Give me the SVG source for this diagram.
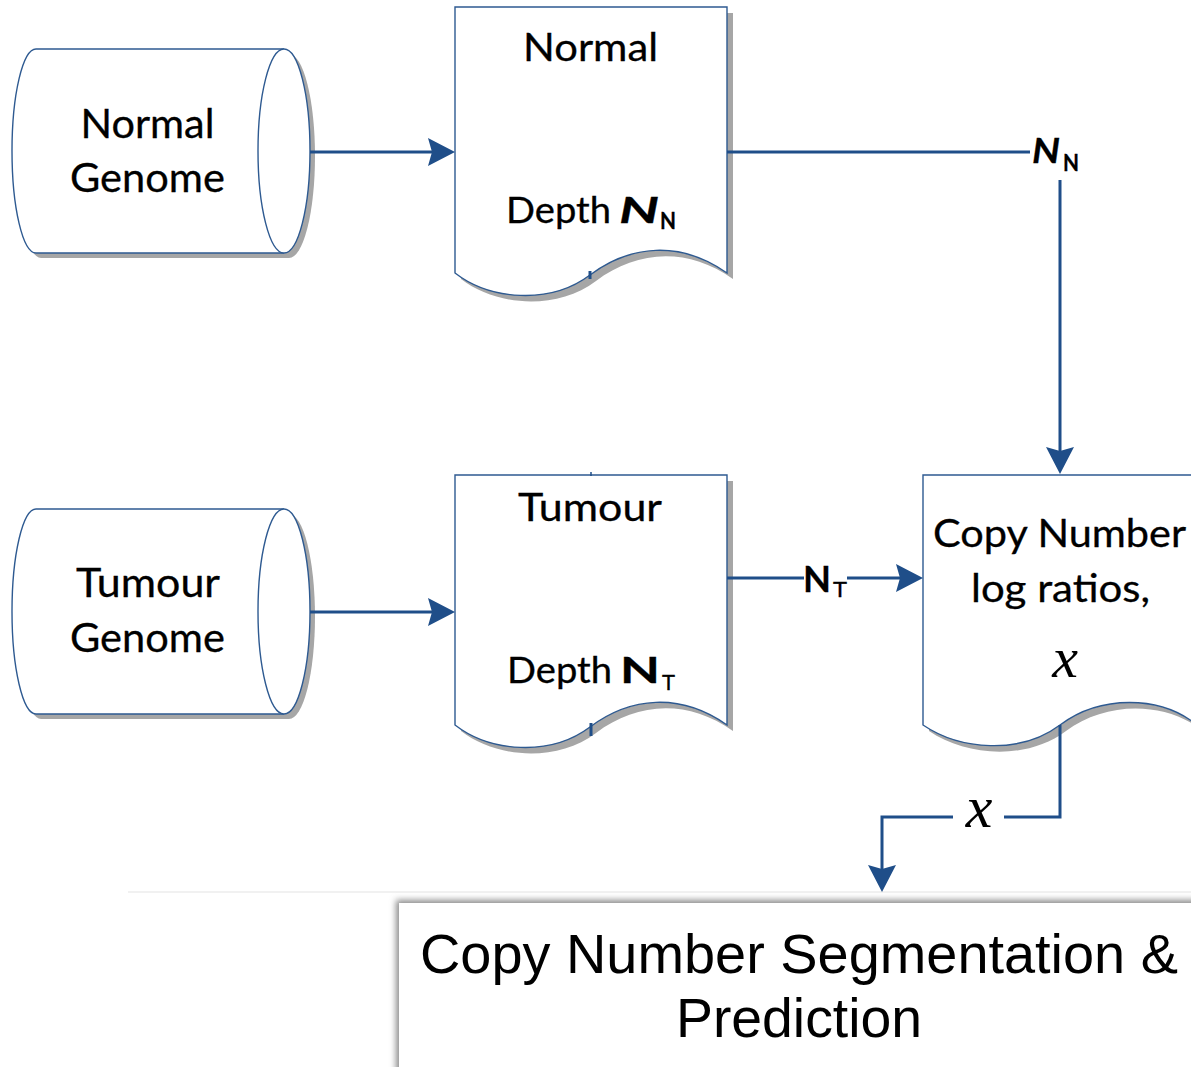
<svg xmlns="http://www.w3.org/2000/svg" width="1191" height="1067" viewBox="0 0 1191 1067">
  <style>
    .shape { fill: #ffffff; stroke: #2e5a91; stroke-width: 1.4; }
    .shadow { fill: #a6a6a6; stroke: none; }
    .conn { fill: none; stroke: #1f4e89; stroke-width: 3; }
    .tick { stroke: #1f4e89; stroke-width: 3; }
    .lbl { font-family: Lato, "Open Sans", sans-serif; fill: #000000; stroke: #000000; stroke-width: 0.3; }
    .math { font-family: "Liberation Serif", "DejaVu Serif", serif; font-style: italic; fill: #000000; }
    .big { font-family: "Liberation Sans", Arial, sans-serif; fill: #000000; }
  </style>
  <defs>
    <marker id="arrow" viewBox="0 0 27 28" refX="17" refY="14" markerWidth="27" markerHeight="28" markerUnits="userSpaceOnUse" orient="auto">
      <path d="M0,0 L27,14 L0,28 L4,14 Z" fill="#1f4e89"/>
    </marker>
    <filter id="soft" x="-10%" y="-10%" width="120%" height="120%">
      <feGaussianBlur stdDeviation="3"/>
    </filter>
  </defs>

  <rect x="0" y="0" width="1191" height="1067" fill="#ffffff"/>

  <!-- Normal genome drum -->
  <g id="normal-genome">
    <path class="shadow" d="M41,54 H289 A26,102 0 0 1 289,258 H41 A24,102 0 0 1 41,54 Z"/>
    <path class="shape" d="M36,49 H284 A26,102 0 0 1 284,253 H36 A24,102 0 0 1 36,49 Z"/>
    <path class="shape" fill="none" d="M284,49 A26,102 0 0 0 284,253"/>
    <text class="lbl" x="147.5" y="138" font-size="40" text-anchor="middle" textLength="134" lengthAdjust="spacingAndGlyphs">Normal</text>
    <text class="lbl" x="147.5" y="192" font-size="40" text-anchor="middle" textLength="155" lengthAdjust="spacingAndGlyphs">Genome</text>
  </g>

  <!-- Tumour genome drum -->
  <g id="tumour-genome">
    <path class="shadow" d="M41,514 H289 A26,102.5 0 0 1 289,719 H41 A24,102.5 0 0 1 41,514 Z"/>
    <path class="shape" d="M36,509 H284 A26,102.5 0 0 1 284,714 H36 A24,102.5 0 0 1 36,509 Z"/>
    <path class="shape" fill="none" d="M284,509 A26,102.5 0 0 0 284,714"/>
    <text class="lbl" x="148" y="597" font-size="40" text-anchor="middle" textLength="144" lengthAdjust="spacingAndGlyphs">Tumour</text>
    <text class="lbl" x="147.5" y="652" font-size="40" text-anchor="middle" textLength="155" lengthAdjust="spacingAndGlyphs">Genome</text>
  </g>

  <!-- Normal depth document -->
  <g id="normal-depth">
    <path class="shadow" d="M461,13 H733 V279 C686,246 636,251 596,281 C556,311 496,306 461,279 Z"/>
    <path class="shape" d="M455,7 H727 V273 C680,240 630,245 590,275 C550,305 490,300 455,273 Z"/>
    <line class="tick" x1="590" y1="271" x2="590" y2="279"/>
    <text class="lbl" x="590.5" y="61" font-size="39" text-anchor="middle" textLength="135" lengthAdjust="spacingAndGlyphs">Normal</text>
    <text class="lbl" x="506" y="223" font-size="36" textLength="105" lengthAdjust="spacingAndGlyphs">Depth</text>
    <text class="lbl" x="619" y="223" font-size="36" font-weight="bold" font-style="italic" textLength="40" lengthAdjust="spacingAndGlyphs">N</text>
    <text class="lbl" x="660" y="229" font-size="23" font-weight="bold" textLength="16" lengthAdjust="spacingAndGlyphs">N</text>
  </g>

  <!-- Tumour depth document -->
  <g id="tumour-depth">
    <path class="shadow" d="M461,481 H733 V731 C686,698 636,703 596,733 C556,763 496,758 461,731 Z"/>
    <path class="shape" d="M455,475 H727 V725 C680,692 630,697 590,727 C550,757 490,752 455,725 Z"/>
    <line class="tick" x1="591" y1="723" x2="591" y2="736"/>
    <line x1="591" y1="472" x2="591" y2="476" stroke="#1f4e89" stroke-width="1.5"/>
    <text class="lbl" x="590" y="521" font-size="39" text-anchor="middle" textLength="144" lengthAdjust="spacingAndGlyphs">Tumour</text>
    <text class="lbl" x="507" y="683" font-size="36" textLength="105" lengthAdjust="spacingAndGlyphs">Depth</text>
    <text class="lbl" x="620" y="683" font-size="36" font-weight="bold" textLength="40" lengthAdjust="spacingAndGlyphs">N</text>
    <text class="lbl" x="662" y="690" font-size="22" textLength="13" lengthAdjust="spacingAndGlyphs">T</text>
  </g>

  <!-- Log-ratio document -->
  <g id="log-ratios">
    <path class="shadow" d="M929,481 H1203 V731 C1166,701 1106,701 1066,731 C1026,761 966,756 929,731 Z"/>
    <path class="shape" d="M923,475 H1197 V725 C1160,695 1100,695 1060,725 C1020,755 960,750 923,725 Z"/>
    <text class="lbl" x="1059.5" y="547" font-size="38" text-anchor="middle" textLength="253" lengthAdjust="spacingAndGlyphs">Copy Number</text>
    <text class="lbl" x="1060.5" y="602" font-size="38" text-anchor="middle" textLength="179" lengthAdjust="spacingAndGlyphs">log ratios,</text>
    <text class="math" x="1065" y="677" font-size="58" text-anchor="middle">x</text>
  </g>

  <!-- Segmentation and prediction block -->
  <g id="segmentation">
    <line x1="128" y1="892" x2="1191" y2="892" stroke="#ececec" stroke-width="1.5"/>
    <rect x="396" y="900" width="820" height="200" fill="#8c8c8c" filter="url(#soft)"/>
    <rect x="399" y="903" width="820" height="200" fill="#ffffff"/>
    <text class="big" x="799" y="973" font-size="56" text-anchor="middle" textLength="758" lengthAdjust="spacingAndGlyphs">Copy Number Segmentation &amp;</text>
    <text class="big" x="799" y="1037" font-size="56" text-anchor="middle" textLength="246" lengthAdjust="spacingAndGlyphs">Prediction</text>
  </g>

  <!-- Connectors -->
  <g id="connectors">
    <line class="conn" x1="310" y1="152" x2="445" y2="152" marker-end="url(#arrow)"/>
    <line class="conn" x1="310" y1="612" x2="445" y2="612" marker-end="url(#arrow)"/>
    <line class="conn" x1="727" y1="152" x2="1030" y2="152"/>
    <line class="conn" x1="1060" y1="180" x2="1060" y2="464" marker-end="url(#arrow)"/>
    <line class="conn" x1="727" y1="578" x2="804" y2="578"/>
    <line class="conn" x1="847" y1="578" x2="913" y2="578" marker-end="url(#arrow)"/>
    <polyline class="conn" points="1060,725 1060,817 1004,817"/>
    <polyline class="conn" points="953,817 882,817 882,882" marker-end="url(#arrow)"/>
    <text class="lbl" x="1032" y="163" font-size="35" font-weight="bold" font-style="italic" textLength="28" lengthAdjust="spacingAndGlyphs">N</text>
    <text class="lbl" x="1063" y="171" font-size="23" font-weight="bold" textLength="16" lengthAdjust="spacingAndGlyphs">N</text>
    <text class="lbl" x="803" y="592" font-size="37" font-weight="bold" textLength="28" lengthAdjust="spacingAndGlyphs">N</text>
    <text class="lbl" x="833" y="597" font-size="22" textLength="14" lengthAdjust="spacingAndGlyphs">T</text>
    <text class="math" x="979" y="827" font-size="60" text-anchor="middle">x</text>
  </g>
</svg>
